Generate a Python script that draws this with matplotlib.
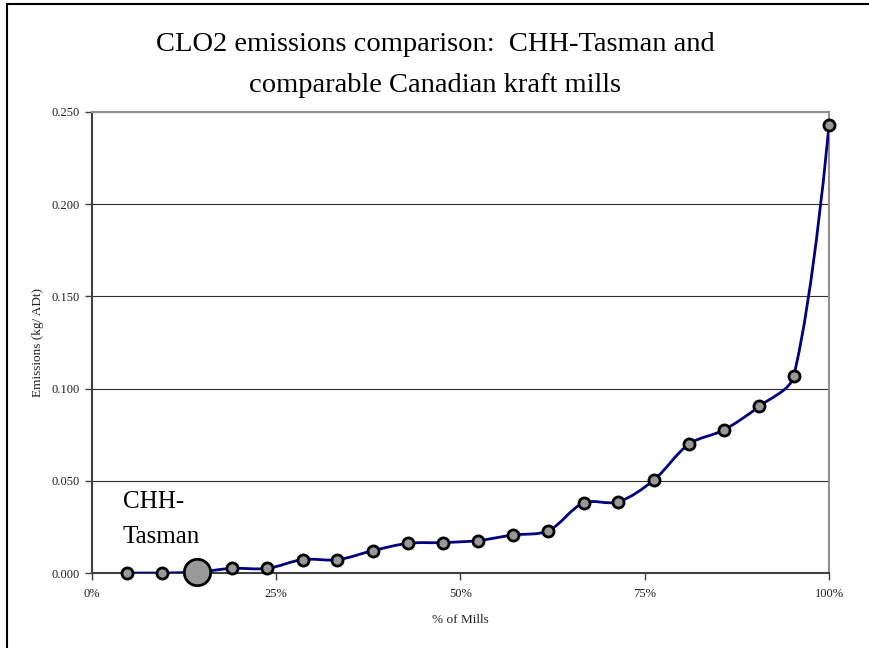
import numpy as np
import matplotlib
matplotlib.use('Agg')
import matplotlib.pyplot as plt
from matplotlib.path import Path
from matplotlib.patches import PathPatch, Rectangle
from matplotlib.ticker import FuncFormatter, MultipleLocator

# datos
pct_mills = [4.8, 9.5, 14.3, 19.0, 23.8, 28.6, 33.3, 38.1, 42.9, 47.6, 52.4,
             57.1, 61.9, 66.7, 71.4, 76.2, 81.0, 85.7, 90.5, 95.2, 100.0]
emisiones = [0.000, 0.000, 0.0005, 0.0025, 0.0025, 0.0073, 0.0072, 0.0121,
             0.0161, 0.0165, 0.0176, 0.0206, 0.0229, 0.0380, 0.0386, 0.0503,
             0.0699, 0.0775, 0.0903, 0.1067, 0.2429]
idx_tasman = 2
titulo = ['CLO2 emissions comparison:  CHH-Tasman and',
          'comparable Canadian kraft mills']

plt.rcParams['font.family'] = ['Liberation Serif', 'DejaVu Serif']

fig = plt.figure(figsize=(8.7, 6.48), dpi=100)
ax = fig.add_axes([92/870, 1-573/648, (829-92)/870, (573-112)/648])

x = np.array(pct_mills) / 100.0
y = np.array(emisiones)

# linea suavizada tipo excel (bezier, tangentes escaladas por distancia en pantalla)
sx, sy = 737.0, 461.0 / 0.25
px = np.column_stack([x * sx, y * sy])
n = len(px)
verts = [tuple(px[0])]
codes = [Path.MOVETO]
for i in range(n - 1):
    p0 = px[max(i-1, 0)]
    p1 = px[i]
    p2 = px[i+1]
    p3 = px[min(i+2, n-1)]
    d01 = np.hypot(*(p1 - p0))
    d12 = np.hypot(*(p2 - p1))
    d23 = np.hypot(*(p3 - p2))
    f1 = d12 / (d01 + d12) / 3.0 if d01 > 0 else 0.0
    f2 = d12 / (d12 + d23) / 3.0 if d23 > 0 else 0.0
    c1 = p1 + (p2 - p0) * f1
    c2 = p2 - (p3 - p1) * f2
    verts += [tuple(c1), tuple(c2), tuple(p2)]
    codes += [Path.CURVE4] * 3
verts = [(vx / sx, vy / sy) for vx, vy in verts]
ax.add_patch(PathPatch(Path(verts, codes), facecolor='none',
                       edgecolor='#000080', lw=2, zorder=3))

ax.plot(x, y, linestyle='none', marker='o', ms=8, mfc='#999999',
        mec='black', mew=2, zorder=4, clip_on=False)
ax.plot(x[idx_tasman], y[idx_tasman], linestyle='none', marker='o', ms=19,
        mfc='#999999', mec='black', mew=2, zorder=5, clip_on=False)
ax.text(0.042, 0.141, 'CHH-', transform=ax.transAxes, fontsize=18,
        ha='left', va='baseline')
ax.text(0.042, 0.065, 'Tasman', transform=ax.transAxes, fontsize=18,
        ha='left', va='baseline')

ax.set_xlim(0, 1)
ax.set_ylim(0, 0.25)
ax.xaxis.set_major_locator(MultipleLocator(0.25))
ax.yaxis.set_major_locator(MultipleLocator(0.05))
ax.xaxis.set_major_formatter(FuncFormatter(lambda v, p: f"{v*100:.0f}%"))
ax.yaxis.set_major_formatter(FuncFormatter(lambda v, p: f"{v:.3f}"))
ax.tick_params(labelsize=9, length=5, width=1, color='#404040', labelcolor='#222222')
ax.tick_params(axis='x', pad=6)
ax.tick_params(axis='y', pad=4)
ax.grid(axis='y', color='#303030', lw=0.8)
ax.set_axisbelow(True)
for s in ['top', 'right']:
    ax.spines[s].set_color('#909090')
    ax.spines[s].set_linewidth(1.5)
for s in ['left', 'bottom']:
    ax.spines[s].set_color('#404040')
    ax.spines[s].set_linewidth(1.5)

ax.set_xlabel('% of Mills', fontsize=9.5, labelpad=10, color='#222222')
ax.set_ylabel('Emissions (kg/ ADt)', fontsize=9.5, labelpad=5, color='#222222')

fig.text(0.5, 1-51/648, titulo[0], ha='center', va='baseline', fontsize=20.5)
fig.text(0.5, 1-92/648, titulo[1], ha='center', va='baseline', fontsize=20.5)

# marco exterior
fig.patches.append(Rectangle((7.5/870, -0.1), 1.2, 1.1 - 4.5/648,
                             transform=fig.transFigure, fill=False,
                             edgecolor='black', lw=1.5))

plt.savefig('out.png')
plt.close()
